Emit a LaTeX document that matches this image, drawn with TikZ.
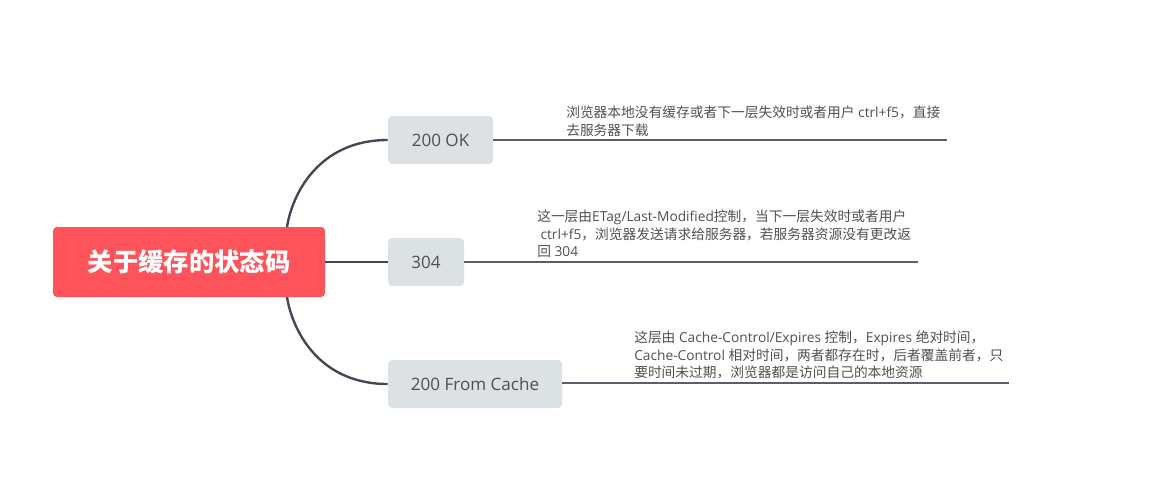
\documentclass[tikz,border=0pt]{standalone}
\usepackage{fontspec}
\setmainfont{Open Sans}
\newfontfamily\zh{Noto Sans CJK SC}
\definecolor{rootred}{HTML}{FF535B}
\definecolor{subfill}{HTML}{DCE2E4}
\definecolor{subtext}{HTML}{4F4F4F}
\definecolor{linkcol}{HTML}{434853}
\definecolor{ulcol}{HTML}{5A606B}
\definecolor{notecol}{HTML}{505050}
\tikzset{
  rootbox/.style={fill=rootred, rounded corners=3pt, minimum width=204pt, minimum height=52.5pt, inner sep=0pt, text=white, font=\zh\bfseries\fontsize{19}{21}\selectfont},
  subbox/.style={fill=subfill, rounded corners=3pt, minimum height=36pt, inner sep=0pt, text=subtext, font=\fontsize{12.8}{15}\selectfont},
  link/.style={draw=linkcol, line width=1.8pt},
  uline/.style={draw=ulcol, line width=0.8pt},
  note/.style={anchor=south west, inner sep=0pt, text depth=0pt, align=left, text=notecol, font=\fontsize{10.3}{13.1}\selectfont},
}
\begin{document}
\begin{tikzpicture}[x=0.75pt,y=-0.75pt]
\useasboundingbox (0,0) rectangle (1176,490);
\coordinate (rtop) at (287,227);
\coordinate (rbot) at (287,297);
\node[subbox, minimum width=78.75pt] (ok) at (440.5,140) {200 OK};
\node[subbox, minimum width=57pt] (nm) at (426,262) {304};
\node[subbox, minimum width=130.5pt] (fc) at (475,384) {200 From Cache};
\draw[link] (rtop) .. controls (292,195) and (318,140) .. (ok.west);
\draw[link] (rbot) .. controls (292,329) and (318,384) .. (fc.west);
\node[rootbox] (root) at (189,262) {关于缓存的状态码};
\draw[link] (root.east) -- (nm.west);
\coordinate (okend) at (947,140);
\coordinate (nmend) at (918,262);
\coordinate (fcend) at (1009,383);
\draw[uline] (ok.east) -- (okend);
\draw[uline] (nm.east) -- (nmend);
\draw[uline] (fc.east |- fcend) -- (fcend);
\node[note] (okn) at (566,135.5) {{\zh 浏览器本地没有缓存或者下一层失效时或者用户} ctrl+f5{\zh ，直接}\\{\zh 去服务器下载}};
\node[note] (nmn) at (537,257) {{\zh 这一层由}ETag/Last-Modified{\zh 控制，当下一层失效时或者用户}\\\hspace*{2.5pt}ctrl+f5{\zh ，浏览器发送请求给服务器，若服务器资源没有更改返}\\{\zh 回} 304};
\node[note] (fcn) at (634,378) {{\zh 这层由} Cache-Control/Expires {\zh 控制，}Expires {\zh 绝对时间，}\\Cache-Control {\zh 相对时间，两者都存在时，后者覆盖前者，只}\\{\zh 要时间未过期，浏览器都是访问自己的本地资源}};
\end{tikzpicture}
\end{document}
